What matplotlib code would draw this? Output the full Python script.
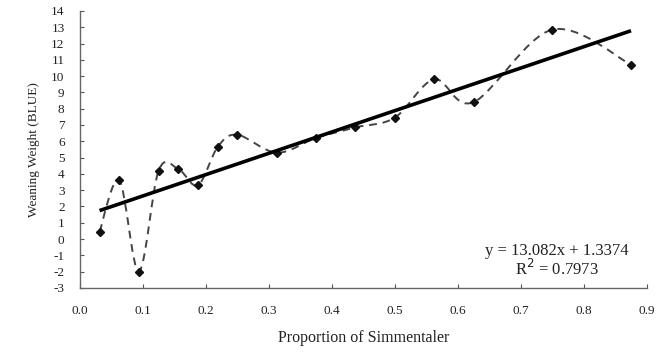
import numpy as np
import matplotlib
matplotlib.use("Agg")
import matplotlib.pyplot as plt
from matplotlib.path import Path
from matplotlib.patches import PathPatch

# Data
proportion = [0.03125, 0.0625, 0.09375, 0.125, 0.15625, 0.1875, 0.21875, 0.25,
              0.3125, 0.375, 0.4375, 0.5, 0.5625, 0.625, 0.75, 0.875]
weaning_weight = [0.45, 3.6, -2.0, 4.2, 4.3, 3.3, 5.65, 6.4,
                  5.3, 6.2, 6.85, 7.45, 9.8, 8.4, 12.85, 10.7]
slope = 13.082
intercept = 1.3374
r_squared = 0.7973
x_ticks = [0.0, 0.1, 0.2, 0.3, 0.4, 0.5, 0.6, 0.7, 0.8, 0.9]
y_ticks = list(range(-3, 15))

plt.rcParams['font.family'] = ['Liberation Serif', 'DejaVu Serif']

fig = plt.figure(figsize=(6.6, 3.52), dpi=100)
ax = fig.add_axes([0.121, 0.182, 0.859, 0.787])

# Smoothed dashed line (Excel-style Bezier through the points)
x = np.array(proportion)
y = np.array(weaning_weight)
n = len(x)
verts = [(x[0], y[0])]
codes = [Path.MOVETO]
t = 1.0 / 6.0
for i in range(n - 1):
    p0 = (x[i - 1], y[i - 1]) if i > 0 else (x[i], y[i])
    p1 = (x[i], y[i])
    p2 = (x[i + 1], y[i + 1])
    p3 = (x[i + 2], y[i + 2]) if i + 2 < n else (x[i + 1], y[i + 1])
    c1 = (p1[0] + (p2[0] - p0[0]) * t, p1[1] + (p2[1] - p0[1]) * t)
    c2 = (p2[0] - (p3[0] - p1[0]) * t, p2[1] - (p3[1] - p1[1]) * t)
    verts += [c1, c2, p2]
    codes += [Path.CURVE4] * 3
patch = PathPatch(Path(verts, codes), facecolor='none', edgecolor='#444444',
                  lw=1.4, linestyle=(0, (4, 3)))
ax.add_patch(patch)
ax.plot(proportion, weaning_weight, linestyle='none', marker='D', markersize=4,
        color='#111111')

# Linear trend line
xl = np.array([proportion[0], proportion[-1]])
ax.plot(xl, slope * xl + intercept, color='black', lw=2.6, solid_capstyle='butt')

ax.set_xlim(0, 0.9)
ax.set_ylim(-3, 14)
ax.set_xticks(x_ticks)
ax.set_xticklabels([f"{v:.1f}" for v in x_ticks])
ax.set_yticks(y_ticks)
ax.set_yticklabels([str(v) for v in y_ticks])
ax.tick_params(axis='both', direction='in', length=3, width=0.8, colors='#555555',
               labelsize=9.5, labelcolor='#222222')
ax.tick_params(axis='x', pad=12)
ax.tick_params(axis='y', pad=11)
for s in ['top', 'right']:
    ax.spines[s].set_visible(False)
for s in ['left', 'bottom']:
    ax.spines[s].set_color('#666666')
    ax.spines[s].set_linewidth(1.0)

ax.set_xlabel('Proportion of Simmentaler', fontsize=11.5, color='#222222', labelpad=10)
ax.set_ylabel('Weaning Weight (BLUE)', fontsize=9.5, color='#222222', labelpad=8)

ax.text(0.757, -0.73, f'y = {slope}x + {intercept}', ha='center', va='center',
        fontsize=12, color='#222222')
ax.text(0.757, -1.85, f'R$^{{2}}$ = {r_squared}', ha='center', va='center',
        fontsize=12, color='#222222')

fig.savefig('out.png', dpi=100, facecolor='white')
